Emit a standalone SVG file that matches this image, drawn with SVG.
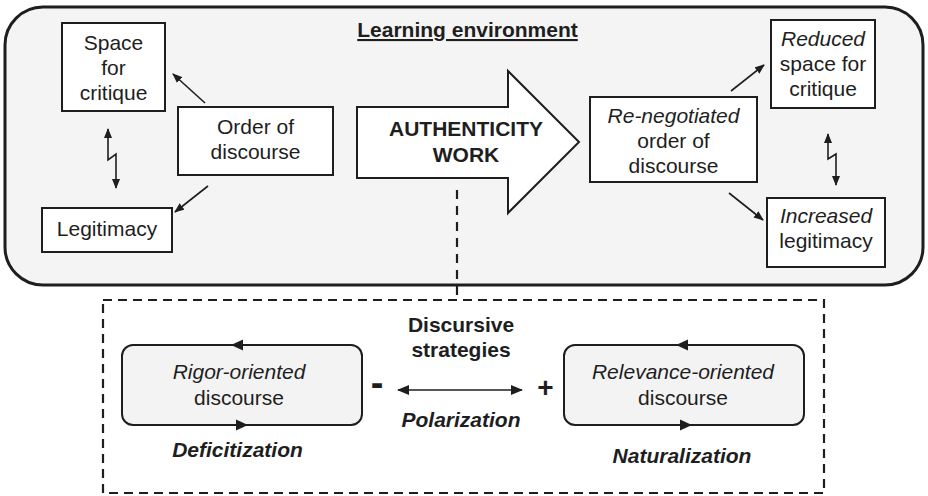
<svg xmlns="http://www.w3.org/2000/svg" width="928" height="496" viewBox="0 0 928 496">
<defs>
<style>
text{font-family:"Liberation Sans",Arial,sans-serif;font-size:21px;fill:#1e1e1e;text-anchor:middle}
.it{font-style:italic}
.b{font-weight:bold}
.box{fill:#fff;stroke:#1e1e1e;stroke-width:2}
.disc{fill:#f3f3f3;stroke:#1e1e1e;stroke-width:2}
.con{fill:none;stroke:#1e1e1e;stroke-width:1.6}
.dash{fill:none;stroke:#1e1e1e;stroke-width:2.2;stroke-dasharray:9 6}
.head{fill:#1e1e1e}
</style>
<marker id="ah" viewBox="0 0 10 8" refX="9" refY="4" markerWidth="10" markerHeight="8" markerUnits="userSpaceOnUse" orient="auto-start-reverse">
<path d="M0,0 L10,4 L0,8 z" fill="#1e1e1e"/>
</marker>
<marker id="ahl" viewBox="0 0 12 10" refX="11" refY="5" markerWidth="12" markerHeight="10" markerUnits="userSpaceOnUse" orient="auto-start-reverse">
<path d="M0,0 L12,5 L0,10 z" fill="#1e1e1e"/>
</marker>
</defs>

<g id="learning-environment">
<rect x="5" y="7" width="918" height="278" rx="38" ry="38" fill="#f4f4f4" stroke="#1e1e1e" stroke-width="3"/>
<text x="467.5" y="37" class="b" text-decoration="underline">Learning environment</text>
</g>

<g id="space-for-critique">
<rect class="box" x="62" y="23" width="103" height="88"/>
<text x="113.5" y="50">Space</text>
<text x="113.5" y="75">for</text>
<text x="113.5" y="100">critique</text>
</g>

<g id="legitimacy">
<rect class="box" x="42" y="208" width="130" height="44"/>
<text x="107" y="236">Legitimacy</text>
</g>

<g id="order-of-discourse">
<rect class="box" x="178" y="107" width="155" height="68"/>
<text x="255.5" y="134">Order of</text>
<text x="255.5" y="159">discourse</text>
</g>

<g id="authenticity-work">
<polygon points="357,107 508,107 508,71 579,142 508,213 508,178 357,178" fill="#fff" stroke="#1e1e1e" stroke-width="2"/>
<text x="466" y="136" class="b">AUTHENTICITY</text>
<text x="466" y="162" class="b">WORK</text>
</g>

<g id="renegotiated-order">
<rect class="box" x="590" y="97" width="167" height="85"/>
<text x="673.5" y="123" class="it">Re-negotiated</text>
<text x="673.5" y="148">order of</text>
<text x="673.5" y="173">discourse</text>
</g>

<g id="reduced-space">
<rect class="box" x="771" y="20" width="104" height="88"/>
<text x="823" y="46" class="it">Reduced</text>
<text x="823" y="71">space for</text>
<text x="823" y="96">critique</text>
</g>

<g id="increased-legitimacy">
<rect class="box" x="767" y="198" width="118" height="69"/>
<text x="826" y="223" class="it">Increased</text>
<text x="826" y="248">legitimacy</text>
</g>

<g id="discursive-strategies">
<rect class="dash" x="103" y="300" width="721" height="193" fill="#fff"/>
<text x="461" y="332" class="b">Discursive</text>
<text x="461" y="357" class="b">strategies</text>
<text x="461" y="427" class="b it">Polarization</text>
<text x="377" y="396" class="b" style="font-size:38px">-</text>
<text x="545.5" y="397" class="b" style="font-size:28px">+</text>
</g>

<g id="rigor-oriented">
<rect class="disc" x="122" y="345" width="240" height="80" rx="11" ry="11"/>
<polygon class="head" points="231,345 243,339.5 243,350.5"/>
<polygon class="head" points="248,425 236,419.5 236,430.5"/>
<text x="239" y="379" class="it">Rigor-oriented</text>
<text x="239" y="405">discourse</text>
<text x="237.5" y="457" class="b it">Deficitization</text>
</g>

<g id="relevance-oriented">
<rect class="disc" x="564" y="345" width="240" height="80" rx="11" ry="11"/>
<polygon class="head" points="676,345 688,339.5 688,350.5"/>
<polygon class="head" points="692,425 680,419.5 680,430.5"/>
<text x="683" y="379" class="it">Relevance-oriented</text>
<text x="683" y="405">discourse</text>
<text x="682" y="463" class="b it">Naturalization</text>
</g>

<g id="connectors">
<line class="con" x1="205" y1="103" x2="173" y2="74" marker-end="url(#ah)"/>
<line class="con" x1="208" y1="186" x2="175" y2="212" marker-end="url(#ah)"/>
<polyline class="con" points="108,129 108,160 116,154 116,188" marker-start="url(#ah)" marker-end="url(#ah)"/>
<line class="con" x1="731" y1="91" x2="764" y2="65" marker-end="url(#ah)"/>
<line class="con" x1="729" y1="193" x2="763" y2="220" marker-end="url(#ah)"/>
<polyline class="con" points="828,134 828,159 836,154 836,185" marker-start="url(#ah)" marker-end="url(#ah)"/>
<line class="con" x1="398" y1="390" x2="522" y2="390" marker-start="url(#ahl)" marker-end="url(#ahl)"/>
<line class="dash" x1="457" y1="190" x2="457" y2="300" style="stroke-dasharray:9 7"/>
</g>
</svg>
